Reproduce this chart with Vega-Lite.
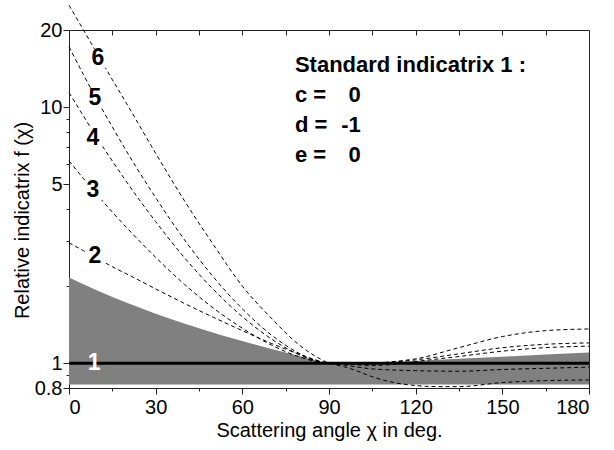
{
  "$schema": "https://vega.github.io/schema/vega-lite/v6.json",
  "width": 520,
  "height": 358,
  "autosize": {"type": "none"},
  "padding": {"left": 69, "top": 30, "right": 25, "bottom": 62},
  "config": {
    "font": "Liberation Sans",
    "view": {"stroke": "#222", "strokeWidth": 1},
    "axis": {"grid": false, "domainColor": "#222", "tickColor": "#222", "labelColor": "#000", "titleColor": "#000", "labelFont": "Liberation Sans", "titleFont": "Liberation Sans", "titleFontWeight": "normal", "labelFontSize": 20, "titleFontSize": 20}
  },
  "datasets": {
    "curves": [
      {"curve": "6", "x": 0, "f": 25}, {"curve": "6", "x": 5, "f": 20}, {"curve": "6", "x": 10, "f": 16}, {"curve": "6", "x": 15, "f": 12.8}, {"curve": "6", "x": 20, "f": 10.3}, {"curve": "6", "x": 30, "f": 6.6}, {"curve": "6", "x": 40, "f": 4.3}, {"curve": "6", "x": 50, "f": 2.9}, {"curve": "6", "x": 60, "f": 2.0}, {"curve": "6", "x": 70, "f": 1.5}, {"curve": "6", "x": 80, "f": 1.17}, {"curve": "6", "x": 85, "f": 1.07}, {"curve": "6", "x": 90, "f": 1.0}, {"curve": "6", "x": 95, "f": 0.97}, {"curve": "6", "x": 100, "f": 0.93}, {"curve": "6", "x": 105, "f": 0.885}, {"curve": "6", "x": 112.5, "f": 0.84}, {"curve": "6", "x": 120, "f": 0.818}, {"curve": "6", "x": 127.5, "f": 0.81}, {"curve": "6", "x": 135, "f": 0.81}, {"curve": "6", "x": 150, "f": 0.84}, {"curve": "6", "x": 165, "f": 0.855}, {"curve": "6", "x": 180, "f": 0.86},
      {"curve": "5", "x": 0, "f": 17.2}, {"curve": "5", "x": 5, "f": 13.4}, {"curve": "5", "x": 10, "f": 10.5}, {"curve": "5", "x": 15, "f": 8.37}, {"curve": "5", "x": 20, "f": 6.7}, {"curve": "5", "x": 30, "f": 4.43}, {"curve": "5", "x": 40, "f": 3.03}, {"curve": "5", "x": 50, "f": 2.17}, {"curve": "5", "x": 60, "f": 1.63}, {"curve": "5", "x": 70, "f": 1.29}, {"curve": "5", "x": 80, "f": 1.088}, {"curve": "5", "x": 85, "f": 1.028}, {"curve": "5", "x": 90, "f": 1.0}, {"curve": "5", "x": 95, "f": 0.985}, {"curve": "5", "x": 100, "f": 0.965}, {"curve": "5", "x": 105, "f": 0.95}, {"curve": "5", "x": 120, "f": 0.935}, {"curve": "5", "x": 135, "f": 0.93}, {"curve": "5", "x": 150, "f": 0.945}, {"curve": "5", "x": 165, "f": 0.955}, {"curve": "5", "x": 180, "f": 0.965},
      {"curve": "4", "x": 0, "f": 11.4}, {"curve": "4", "x": 5, "f": 9.23}, {"curve": "4", "x": 10, "f": 7.5}, {"curve": "4", "x": 15, "f": 6.16}, {"curve": "4", "x": 20, "f": 5.09}, {"curve": "4", "x": 30, "f": 3.57}, {"curve": "4", "x": 40, "f": 2.58}, {"curve": "4", "x": 50, "f": 1.94}, {"curve": "4", "x": 60, "f": 1.52}, {"curve": "4", "x": 70, "f": 1.245}, {"curve": "4", "x": 80, "f": 1.075}, {"curve": "4", "x": 85, "f": 1.024}, {"curve": "4", "x": 90, "f": 1.0}, {"curve": "4", "x": 95, "f": 0.995}, {"curve": "4", "x": 100, "f": 0.985}, {"curve": "4", "x": 105, "f": 0.98}, {"curve": "4", "x": 112.5, "f": 0.99}, {"curve": "4", "x": 120, "f": 1.015}, {"curve": "4", "x": 135, "f": 1.062}, {"curve": "4", "x": 150, "f": 1.114}, {"curve": "4", "x": 165, "f": 1.15}, {"curve": "4", "x": 180, "f": 1.165},
      {"curve": "3", "x": 0, "f": 6.17}, {"curve": "3", "x": 5, "f": 5.26}, {"curve": "3", "x": 10, "f": 4.51}, {"curve": "3", "x": 15, "f": 3.89}, {"curve": "3", "x": 20, "f": 3.38}, {"curve": "3", "x": 30, "f": 2.59}, {"curve": "3", "x": 40, "f": 2.03}, {"curve": "3", "x": 50, "f": 1.64}, {"curve": "3", "x": 60, "f": 1.37}, {"curve": "3", "x": 70, "f": 1.178}, {"curve": "3", "x": 80, "f": 1.056}, {"curve": "3", "x": 85, "f": 1.018}, {"curve": "3", "x": 90, "f": 1.0}, {"curve": "3", "x": 95, "f": 0.998}, {"curve": "3", "x": 100, "f": 0.993}, {"curve": "3", "x": 105, "f": 0.995}, {"curve": "3", "x": 112.5, "f": 1.01}, {"curve": "3", "x": 120, "f": 1.03}, {"curve": "3", "x": 135, "f": 1.088}, {"curve": "3", "x": 150, "f": 1.149}, {"curve": "3", "x": 165, "f": 1.185}, {"curve": "3", "x": 180, "f": 1.2},
      {"curve": "2", "x": 0, "f": 2.95}, {"curve": "2", "x": 5, "f": 2.75}, {"curve": "2", "x": 10, "f": 2.56}, {"curve": "2", "x": 15, "f": 2.38}, {"curve": "2", "x": 20, "f": 2.23}, {"curve": "2", "x": 30, "f": 1.95}, {"curve": "2", "x": 40, "f": 1.71}, {"curve": "2", "x": 50, "f": 1.51}, {"curve": "2", "x": 60, "f": 1.34}, {"curve": "2", "x": 70, "f": 1.195}, {"curve": "2", "x": 80, "f": 1.081}, {"curve": "2", "x": 85, "f": 1.034}, {"curve": "2", "x": 90, "f": 1.0}, {"curve": "2", "x": 95, "f": 0.997}, {"curve": "2", "x": 100, "f": 0.995}, {"curve": "2", "x": 105, "f": 1.0}, {"curve": "2", "x": 112.5, "f": 1.015}, {"curve": "2", "x": 120, "f": 1.04}, {"curve": "2", "x": 135, "f": 1.15}, {"curve": "2", "x": 150, "f": 1.27}, {"curve": "2", "x": 165, "f": 1.34}, {"curve": "2", "x": 180, "f": 1.36}
    ],
    "band": [
      {"x": 0, "top": 2.16, "bottom": 0.825}, {"x": 10, "top": 1.92, "bottom": 0.825}, {"x": 20, "top": 1.72, "bottom": 0.825}, {"x": 30, "top": 1.56, "bottom": 0.825}, {"x": 45, "top": 1.37, "bottom": 0.825}, {"x": 60, "top": 1.22, "bottom": 0.825}, {"x": 75, "top": 1.1, "bottom": 0.825}, {"x": 85, "top": 1.03, "bottom": 0.825}, {"x": 90, "top": 1.0, "bottom": 0.825}, {"x": 105, "top": 1.005, "bottom": 0.825}, {"x": 120, "top": 1.02, "bottom": 0.825}, {"x": 135, "top": 1.04, "bottom": 0.825}, {"x": 150, "top": 1.06, "bottom": 0.825}, {"x": 165, "top": 1.08, "bottom": 0.825}, {"x": 180, "top": 1.1, "bottom": 0.825}
    ],
    "iso": [{"curve": "1", "x": 0, "f": 1}, {"curve": "1", "x": 180, "f": 1}],
    "labels": [
      {"t": "6", "x": 10, "f": 15.5, "c": "black", "box": true}, {"t": "5", "x": 9, "f": 10.9, "c": "black", "box": true}, {"t": "4", "x": 8.3, "f": 7.6, "c": "black", "box": true}, {"t": "3", "x": 8.3, "f": 4.73, "c": "black", "box": true}, {"t": "2", "x": 9, "f": 2.62, "c": "black", "box": true}, {"t": "1", "x": 8.7, "f": 1.0, "c": "white", "box": false}
    ],
    "note": [
      {"t": "Standard indicatrix 1 :", "x": 78.2, "f": 13.7},
      {"t": "c =", "x": 78.2, "f": 10.46}, {"t": "d =", "x": 78.2, "f": 7.98}, {"t": "e =", "x": 78.2, "f": 6.1}
    ],
    "noteval": [
      {"t": "0", "x": 101, "f": 10.46}, {"t": "-1", "x": 101, "f": 7.98}, {"t": "0", "x": 101, "f": 6.1}
    ]
  },
  "resolve": {"axis": {"x": "independent", "y": "independent"}},
  "layer": [
    {
      "data": {"name": "band"},
      "mark": {"type": "area", "color": "#808080", "opacity": 1, "interpolate": "monotone"},
      "encoding": {
        "x": {"field": "x", "type": "quantitative", "scale": {"domain": [0, 180], "nice": false, "zero": false},
              "axis": {"orient": "bottom", "values": [0, 30, 60, 90, 120, 150, 180], "tickSize": 6, "labelPadding": 3, "title": "Scattering angle χ in deg.", "titlePadding": 3, "domain": true}},
        "y": {"field": "top", "type": "quantitative", "scale": {"type": "log", "domain": [0.8, 20], "nice": false, "zero": false},
              "axis": {"orient": "left", "values": [0.8, 1, 5, 10, 20], "tickSize": 6, "labelPadding": 1, "title": "Relative indicatrix f (χ)", "titleX": -47, "titleY": 190, "titleBaseline": "middle", "titleAlign": "center", "titleAngle": -90, "domain": true}},
        "y2": {"field": "bottom"}
      }
    },
    {
      "data": {"name": "curves"},
      "mark": {"type": "line", "color": "black", "strokeWidth": 1, "strokeDash": [4, 3], "clip": false, "interpolate": "monotone"},
      "encoding": {
        "x": {"field": "x", "type": "quantitative", "axis": {"orient": "bottom", "values": [15, 45, 75, 105, 135, 165], "tickSize": 3, "labels": false, "title": null, "domain": false}},
        "y": {"field": "f", "type": "quantitative", "axis": {"orient": "left", "values": [0.9, 2, 3, 4, 6, 7, 8, 9], "tickSize": 3, "labels": false, "title": null, "domain": false}},
        "detail": {"field": "curve"}
      }
    },
    {
      "data": {"name": "iso"},
      "mark": {"type": "line", "color": "black", "strokeWidth": 3},
      "encoding": {
        "x": {"field": "x", "type": "quantitative", "axis": {"orient": "top", "values": [15, 30, 45, 60, 75, 90, 105, 120, 135, 150, 165], "tickSize": 5, "offset": -5, "labels": false, "title": null, "domain": false}},
        "y": {"field": "f", "type": "quantitative", "axis": null}
      }
    },
    {
      "data": {"name": "labels"},
      "transform": [{"filter": "datum.box"}],
      "mark": {"type": "square", "color": "white", "opacity": 1, "size": 360, "filled": true},
      "encoding": {
        "x": {"field": "x", "type": "quantitative", "axis": null},
        "y": {"field": "f", "type": "quantitative", "axis": null}
      }
    },
    {
      "data": {"name": "labels"},
      "mark": {"type": "text", "fontSize": 23, "fontWeight": "bold", "baseline": "middle", "align": "center"},
      "encoding": {
        "x": {"field": "x", "type": "quantitative", "axis": null},
        "y": {"field": "f", "type": "quantitative", "axis": null},
        "text": {"field": "t"},
        "color": {"field": "c", "type": "nominal", "scale": null}
      }
    },
    {
      "data": {"name": "note"},
      "mark": {"type": "text", "fontSize": 22, "fontWeight": "bold", "baseline": "alphabetic", "align": "left", "color": "black"},
      "encoding": {
        "x": {"field": "x", "type": "quantitative", "axis": null},
        "y": {"field": "f", "type": "quantitative", "axis": null},
        "text": {"field": "t"}
      }
    },
    {
      "data": {"name": "noteval"},
      "mark": {"type": "text", "fontSize": 22, "fontWeight": "bold", "baseline": "alphabetic", "align": "right", "color": "black"},
      "encoding": {
        "x": {"field": "x", "type": "quantitative", "axis": null},
        "y": {"field": "f", "type": "quantitative", "axis": null},
        "text": {"field": "t"}
      }
    }
  ]
}
